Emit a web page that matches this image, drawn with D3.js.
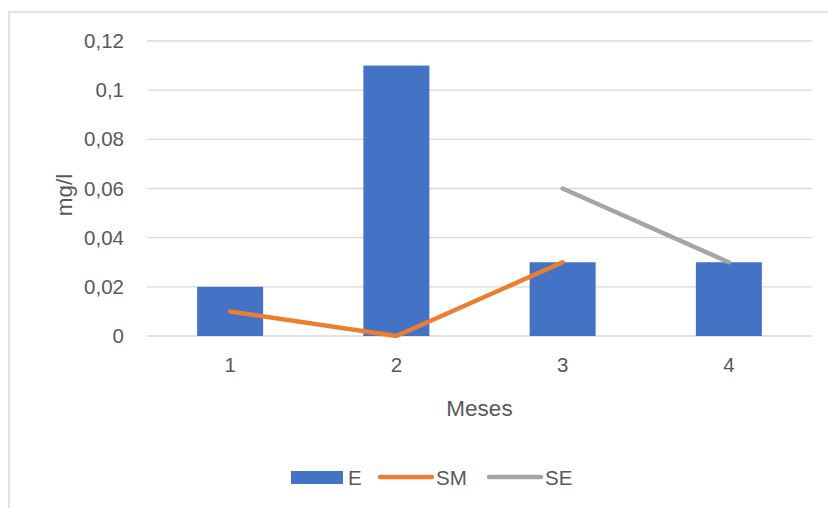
<!DOCTYPE html>
<html><head><meta charset="utf-8">
<script src="https://cdn.jsdelivr.net/npm/d3@7"></script>
<style>body{margin:0;background:#fff}svg{display:block}</style>
</head><body>
<script>
const categories = ["1","2","3","4"];
const seriesE = [0.02, 0.11, 0.03, 0.03];
const seriesSM = [0.01, 0, 0.03, null];
const seriesSE = [null, null, 0.06, 0.03];
const yTicks = [0, 0.02, 0.04, 0.06, 0.08, 0.1, 0.12];
const yTickLabels = ["0","0,02","0,04","0,06","0,08","0,1","0,12"];
const xTitle = "Meses", yTitle = "mg/l";
const legendNames = ["E","SM","SE"];

const W = 828, H = 508;
const font = "'Liberation Sans', Arial, sans-serif";
const txt = "#595959";
const svg = d3.select("body").append("svg").attr("width", W).attr("height", H);

// chart border
svg.append("rect").attr("x", 9).attr("y", 12).attr("width", W + 20).attr("height", H + 20)
  .attr("fill", "#fff").attr("stroke", "#d9d9d9").attr("stroke-width", 1.5);

const x = d3.scaleBand().domain(categories).range([147, 812]).paddingInner(0.6).paddingOuter(0.3);
const xc = d => x(d) + x.bandwidth() / 2;
const y = d3.scaleLinear().domain([0, 0.12]).range([336, 41]);

// gridlines
svg.append("g").selectAll("line").data(yTicks).join("line")
  .attr("x1", 147).attr("x2", 812)
  .attr("y1", d => y(d)).attr("y2", d => y(d))
  .attr("stroke", "#d9d9d9").attr("stroke-width", 1.3);

// y axis labels
const yAxis = d3.axisLeft(y).tickValues(yTicks).tickSize(0).tickPadding(0)
  .tickFormat((d, i) => yTickLabels[i]);
const gy = svg.append("g").attr("transform", "translate(124,0)").call(yAxis);
gy.select(".domain").remove();
gy.selectAll("text").attr("font-family", font).attr("font-size", 20.5).attr("fill", txt);

// bars
svg.append("g").selectAll("rect").data(seriesE).join("rect")
  .attr("x", (d, i) => xc(categories[i]) - 33)
  .attr("width", 66)
  .attr("y", d => y(d)).attr("height", d => y(0) - y(d))
  .attr("fill", "#4472C4");

// x axis labels
const xAxis = d3.axisBottom(x).tickSize(0).tickPadding(0);
const gx = svg.append("g").attr("transform", "translate(0,357)").call(xAxis);
gx.select(".domain").remove();
gx.selectAll("text").attr("font-family", font).attr("font-size", 20.5).attr("fill", txt);

// lines
const line = d3.line().defined(d => d.v !== null).x(d => xc(d.c)).y(d => y(d.v));
[[seriesSM, "#ED7D31"], [seriesSE, "#A5A5A5"]].forEach(([s, col]) => {
  svg.append("path").datum(s.map((v, i) => ({c: categories[i], v})))
    .attr("d", line).attr("fill", "none").attr("stroke", col)
    .attr("stroke-width", 4.5).attr("stroke-linecap", "round").attr("stroke-linejoin", "round");
});

// axis titles
svg.append("text").attr("x", 479.5).attr("y", 416).attr("text-anchor", "middle")
  .attr("font-family", font).attr("font-size", 22.5).attr("fill", txt).text(xTitle);
svg.append("text").attr("transform", "translate(72,195) rotate(-90)").attr("text-anchor", "middle")
  .attr("font-family", font).attr("font-size", 22.5).attr("fill", txt).text(yTitle);

// legend
const lg = svg.append("g").attr("font-family", font).attr("font-size", 20.5).attr("fill", txt);
lg.append("rect").attr("x", 291).attr("y", 471).attr("width", 52).attr("height", 13).attr("fill", "#4472C4");
lg.append("text").attr("x", 348).attr("y", 485).text(legendNames[0]);
lg.append("line").attr("x1", 380).attr("x2", 432).attr("y1", 477).attr("y2", 477)
  .attr("stroke", "#ED7D31").attr("stroke-width", 4.5).attr("stroke-linecap", "round");
lg.append("text").attr("x", 436).attr("y", 485).text(legendNames[1]);
lg.append("line").attr("x1", 489).attr("x2", 541).attr("y1", 477).attr("y2", 477)
  .attr("stroke", "#A5A5A5").attr("stroke-width", 4.5).attr("stroke-linecap", "round");
lg.append("text").attr("x", 545).attr("y", 485).text(legendNames[2]);
</script>
</body></html>
